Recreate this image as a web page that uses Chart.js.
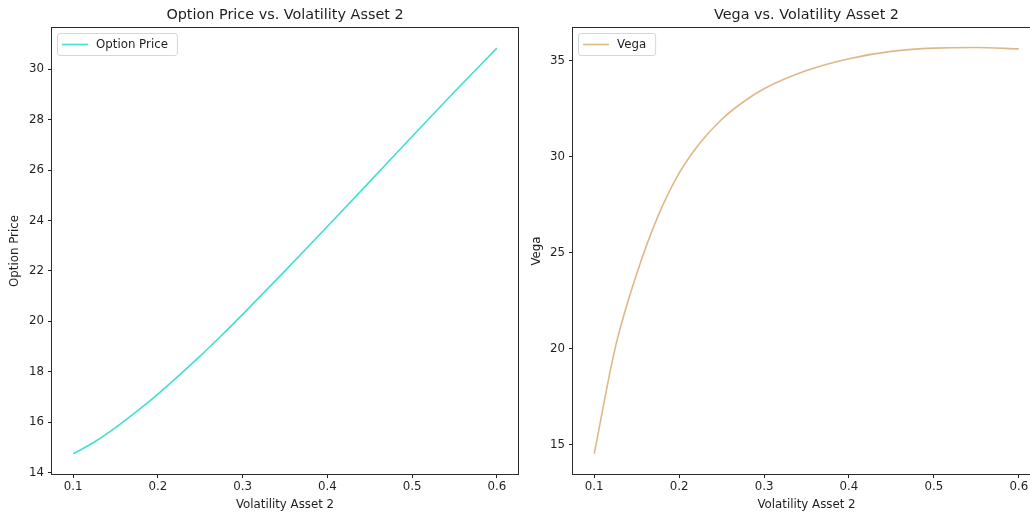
<!DOCTYPE html>
<html><head><meta charset="utf-8">
<script src="https://cdn.jsdelivr.net/npm/chart.js@4.4.1/dist/chart.umd.min.js"></script>
<style>
html,body{margin:0;padding:0;background:#fff;overflow:hidden;width:1030px;height:516px;}
#wrap{position:relative;width:1030px;height:516px;overflow:hidden;}
#c1{position:absolute;left:0;top:0;}
#c2{position:absolute;left:520px;top:0;}
</style></head><body>
<div id="wrap">
<canvas id="c1" width="521" height="516"></canvas>
<canvas id="c2" width="523" height="516"></canvas>
</div>
<script>
// ---- data ----
const volPrice = [0.100, 0.125, 0.150, 0.175, 0.200, 0.225, 0.250, 0.275, 0.300, 0.350, 0.400, 0.450, 0.500, 0.550, 0.600];
const optionPrice = [14.75, 15.22, 15.79, 16.43, 17.12, 17.86, 18.63, 19.44, 20.28, 22.00, 23.76, 25.54, 27.33, 29.10, 30.83];
const volVega = [0.100, 0.125, 0.150, 0.175, 0.200, 0.225, 0.250, 0.275, 0.300, 0.350, 0.400, 0.450, 0.500, 0.550, 0.600];
const vega = [14.53, 20.10, 23.90, 26.90, 29.15, 30.75, 31.95, 32.85, 33.55, 34.50, 35.12, 35.50, 35.67, 35.70, 35.63];
const xTicks = [0.1, 0.2, 0.3, 0.4, 0.5, 0.6];
const priceTicks = [14, 16, 18, 20, 22, 24, 26, 28, 30];
const vegaTicks = [15, 20, 25, 30, 35];
const xLabel = 'Volatility Asset 2';

const FONT = 'DejaVu Sans';
const TXT = '#1f1f1f';
const FS = 11.8;

const decorPlugin = {
  id: 'decor',
  afterDraw(chart, args, opts) {
    const {ctx, chartArea: a} = chart;
    ctx.save();
    // frame
    ctx.strokeStyle = '#2b2b2b';
    ctx.lineWidth = 1;
    ctx.strokeRect(Math.round(a.left) - 0.5, Math.round(a.top) - 0.5, Math.round(a.right - a.left) + 1, Math.round(a.bottom - a.top) + 1);
    // title
    ctx.fillStyle = TXT;
    ctx.font = '14.4px "' + FONT + '"';
    ctx.textAlign = 'center';
    ctx.textBaseline = 'alphabetic';
    ctx.fillText(opts.title, (a.left + a.right) / 2, 19);
    // legend
    ctx.font = FS + 'px "' + FONT + '"';
    const tw = ctx.measureText(opts.label).width;
    const bx = a.left + 5.5, by = 33.5, bw = 44 + tw + 4, bh = 22;
    ctx.beginPath();
    if (ctx.roundRect) ctx.roundRect(bx, by, bw, bh, 2.5); else ctx.rect(bx, by, bw, bh);
    ctx.fillStyle = 'rgba(255,255,255,0.8)';
    ctx.fill();
    ctx.strokeStyle = '#d6d6d6';
    ctx.lineWidth = 1;
    ctx.stroke();
    ctx.beginPath();
    ctx.strokeStyle = opts.color;
    ctx.lineWidth = 1.6;
    ctx.moveTo(a.left + 10, 44.5);
    ctx.lineTo(a.left + 36, 44.5);
    ctx.stroke();
    ctx.fillStyle = TXT;
    ctx.textAlign = 'left';
    ctx.textBaseline = 'middle';
    ctx.fillText(opts.label, a.left + 44, 45);
    ctx.restore();
  }
};

function makeChart(id, xs, ys, color, label, title, yTicks, yMin, yMax, yAxisWidth, yTitlePad) {
  const tickFont = {family: FONT, size: FS};
  return new Chart(document.getElementById(id), {
    type: 'line',
    data: {
      datasets: [{
        label: label,
        data: xs.map((x, i) => ({x: x, y: ys[i]})),
        borderColor: color,
        borderWidth: 1.6,
        pointRadius: 0,
        fill: false,
        cubicInterpolationMode: 'monotone'
      }]
    },
    options: {
      responsive: false,
      animation: false,
      devicePixelRatio: 1,
      layout: {padding: {top: 28, right: 3, left: 0, bottom: 0}},
      plugins: {
        legend: {display: false},
        title: {display: false},
        tooltip: {enabled: false},
        decor: {title: title, label: label, color: color}
      },
      scales: {
        x: {
          type: 'linear',
          min: 0.075, max: 0.625,
          afterBuildTicks: s => { s.ticks = xTicks.map(v => ({value: v})); },
          afterFit: s => { s.height = 42; },
          ticks: {font: tickFont, color: TXT, padding: 2, maxRotation: 0, callback: v => v.toFixed(1)},
          grid: {display: true, drawOnChartArea: false, drawTicks: true, tickLength: 4, color: '#222', lineWidth: 1},
          border: {display: false},
          title: {display: true, text: xLabel, font: {family: FONT, size: FS}, color: TXT, padding: {top: 0, bottom: 4.4}}
        },
        y: {
          type: 'linear',
          min: yMin, max: yMax,
          afterBuildTicks: s => { s.ticks = yTicks.map(v => ({value: v})); },
          afterFit: s => { s.width = yAxisWidth; },
          ticks: {font: tickFont, color: TXT, padding: 4, callback: v => String(v)},
          grid: {display: true, drawOnChartArea: false, drawTicks: true, tickLength: 4, color: '#222', lineWidth: 1},
          border: {display: false},
          title: {display: true, text: label, font: {family: FONT, size: FS}, color: TXT, padding: {top: yTitlePad, bottom: 0}}
        }
      }
    },
    plugins: [decorPlugin]
  });
}

makeChart('c1', volPrice, optionPrice, '#40E0D0', 'Option Price', 'Option Price vs. Volatility Asset 2', priceTicks, 13.95, 31.63, 52, 7.9);
makeChart('c2', volVega, vega, '#DEB887', 'Vega', 'Vega vs. Volatility Asset 2', vegaTicks, 13.47, 36.72, 53, 9.6);
</script>
</body></html>
